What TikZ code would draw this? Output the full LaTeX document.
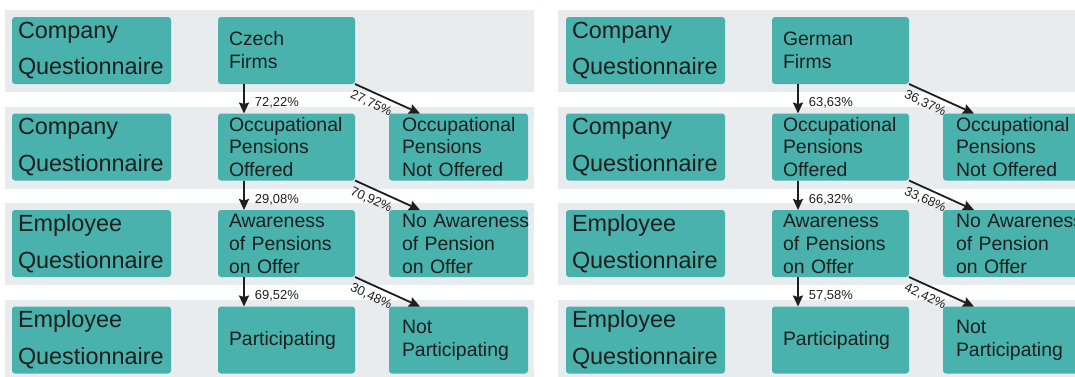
\documentclass[tikz,border=0pt]{standalone}
\usepackage{fontspec}
\setmainfont{Liberation Sans}
\usepackage{xcolor}
\usetikzlibrary{arrows.meta,positioning}
\definecolor{boxteal}{RGB}{73,178,172}
\definecolor{bandgray}{RGB}{232,236,238}
\definecolor{inkdark}{RGB}{30,30,30}

\begin{document}
\begin{tikzpicture}[x=1bp,y=1bp,
    band/.style={fill=bandgray},
    lab/.style={fill=boxteal,rounded corners=3bp,minimum width=159bp,minimum height=67bp,text width=147bp,inner xsep=6bp,align=left,outer sep=0pt,text=inkdark,font=\fontsize{23.5}{37}\selectfont},
    stage/.style={fill=boxteal,rounded corners=3bp,minimum width=137bp,minimum height=67bp,text width=115bp,inner xsep=11bp,align=left,outer sep=0pt,text=inkdark,font=\fontsize{19.5}{23}\selectfont},
    wide/.style={stage,minimum width=139bp,text width=113bp,inner xsep=13bp},
    arrow/.style={-{Stealth[length=11bp,width=10bp,inset=1.5bp]},line width=1.8bp,color=inkdark},
    pct/.style={font=\fontsize{13}{15}\selectfont,text=inkdark,inner sep=1bp}]
  \useasboundingbox (0,0) rectangle (1075,-376);
  \foreach \t in {10,106.5,203,299.5} {
    \fill[band] (5,-\t) rectangle (534,-\t-82);
    \fill[band] (558,-\t) rectangle (1075,-\t-82);
  }
  \node[lab,anchor=north west] (cz1) at (12,-17) {Company\\Questionnaire};
  \node[lab,below=29.5bp of cz1] (cz2) {Company\\Questionnaire};
  \node[lab,below=29.5bp of cz2] (cz3) {Employee\\Questionnaire};
  \node[lab,below=29.5bp of cz3] (cz4) {Employee\\Questionnaire};
  \node[stage,right=47bp of cz1] (czfirms) {Czech\\Firms};
  \node[stage,right=47bp of cz2] (czoff) {Occupational\\Pensions\\Offered};
  \node[wide,right=34bp of czoff] (cznotoff) {Occupational\\Pensions\\Not Offered};
  \node[stage,right=47bp of cz3] (czaware) {Awareness\\of Pensions\\on Offer};
  \node[wide,right=34bp of czaware] (cznoaware) {\mbox{No Awareness}\\of Pension\\on Offer};
  \node[stage,right=47bp of cz4] (czpart) {Participating};
  \node[wide,right=34bp of czpart] (cznotpart) {Not\\Participating};
  \node[lab,anchor=north west] (de1) at (566,-17) {Company\\Questionnaire};
  \node[lab,below=29.5bp of de1] (de2) {Company\\Questionnaire};
  \node[lab,below=29.5bp of de2] (de3) {Employee\\Questionnaire};
  \node[lab,below=29.5bp of de3] (de4) {Employee\\Questionnaire};
  \node[stage,right=47bp of de1] (defirms) {German\\Firms};
  \node[stage,right=47bp of de2] (deoff) {Occupational\\Pensions\\Offered};
  \node[wide,right=34bp of deoff] (denotoff) {Occupational\\Pensions\\Not Offered};
  \node[stage,right=47bp of de3] (deaware) {Awareness\\of Pensions\\on Offer};
  \node[wide,right=34bp of deaware] (denoaware) {\mbox{No Awareness}\\of Pension\\on Offer};
  \node[stage,right=47bp of de4] (depart) {Participating};
  \node[wide,right=34bp of depart] (denotpart) {Not\\Participating};
  \draw[arrow] ([xshift=26bp]czfirms.south west) -- ([xshift=26bp]czoff.north west) node[pct,right=9bp,pos=0.65] {72,22\%};
  \draw[arrow] (czfirms.south east) -- ([xshift=31bp]cznotoff.north west) node[pct,below=4bp,sloped,pos=0.32] {27,75\%};
  \draw[arrow] ([xshift=26bp]czoff.south west) -- ([xshift=26bp]czaware.north west) node[pct,right=9bp,pos=0.65] {29,08\%};
  \draw[arrow] (czoff.south east) -- ([xshift=31bp]cznoaware.north west) node[pct,below=4bp,sloped,pos=0.32] {70,92\%};
  \draw[arrow] ([xshift=26bp]czaware.south west) -- ([xshift=26bp]czpart.north west) node[pct,right=9bp,pos=0.65] {69,52\%};
  \draw[arrow] (czaware.south east) -- ([xshift=31bp]cznotpart.north west) node[pct,below=4bp,sloped,pos=0.32] {30,48\%};
  \draw[arrow] ([xshift=26bp]defirms.south west) -- ([xshift=26bp]deoff.north west) node[pct,right=9bp,pos=0.65] {63,63\%};
  \draw[arrow] (defirms.south east) -- ([xshift=31bp]denotoff.north west) node[pct,below=4bp,sloped,pos=0.32] {36,37\%};
  \draw[arrow] ([xshift=26bp]deoff.south west) -- ([xshift=26bp]deaware.north west) node[pct,right=9bp,pos=0.65] {66,32\%};
  \draw[arrow] (deoff.south east) -- ([xshift=31bp]denoaware.north west) node[pct,below=4bp,sloped,pos=0.32] {33,68\%};
  \draw[arrow] ([xshift=26bp]deaware.south west) -- ([xshift=26bp]depart.north west) node[pct,right=9bp,pos=0.65] {57,58\%};
  \draw[arrow] (deaware.south east) -- ([xshift=31bp]denotpart.north west) node[pct,below=4bp,sloped,pos=0.32] {42,42\%};
\end{tikzpicture}
\end{document}
